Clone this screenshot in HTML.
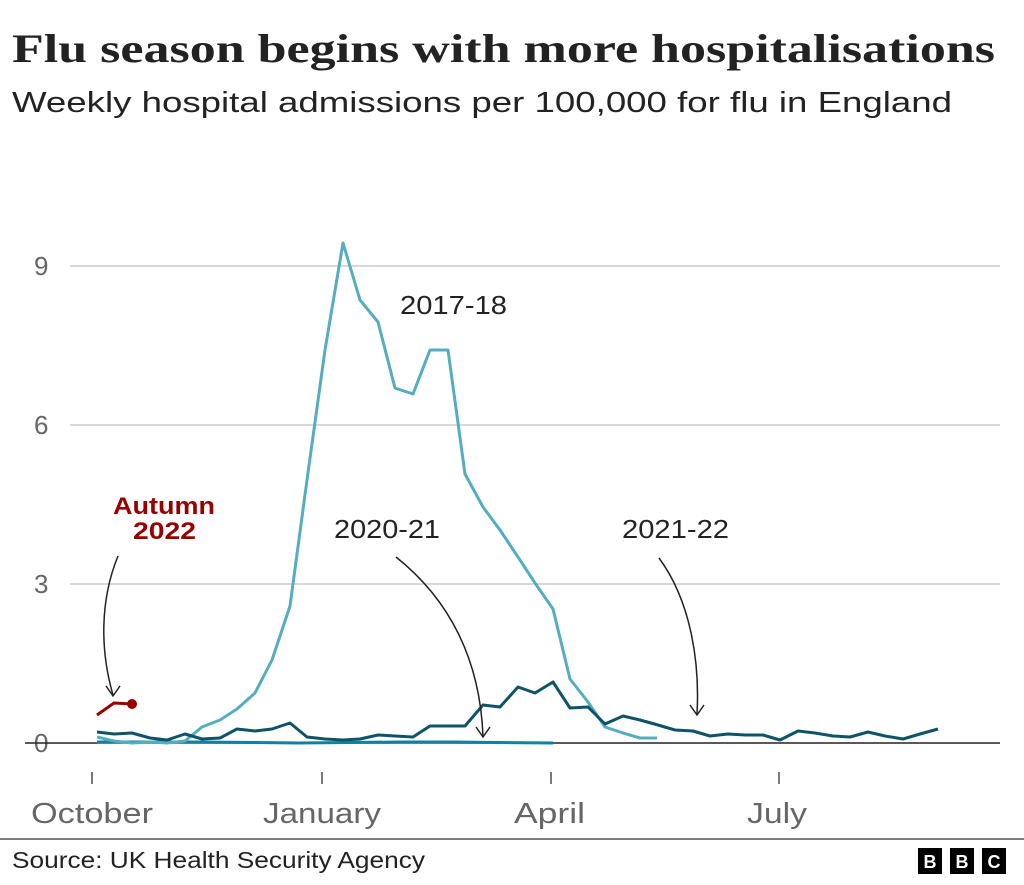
<!DOCTYPE html><html><head><meta charset="utf-8"><style>
body{margin:0;background:#fff;width:1024px;height:880px;overflow:hidden}
</style></head><body>
<svg width="1024" height="880" xmlns="http://www.w3.org/2000/svg" font-family="Liberation Sans, sans-serif">
<text x="12" y="62" style="font-family:'Liberation Serif',serif" font-weight="bold" font-size="40" fill="#222" textLength="983" lengthAdjust="spacingAndGlyphs">Flu season begins with more hospitalisations</text>
<text x="12" y="112" font-size="29" fill="#222" textLength="940" lengthAdjust="spacingAndGlyphs">Weekly hospital admissions per 100,000 for flu in England</text>
<g stroke="#ccc" stroke-width="1.5">
<line x1="70" y1="266" x2="1000" y2="266"/><line x1="70" y1="425" x2="1000" y2="425"/><line x1="70" y1="584" x2="1000" y2="584"/></g>
<g font-size="26" fill="#666"><text x="34" y="275">9</text><text x="34" y="434">6</text><text x="34" y="593">3</text><text x="34" y="752">0</text></g>
<line x1="25" y1="743" x2="1000" y2="743" stroke="#222" stroke-width="1.5"/>
<g stroke="#222" stroke-width="1.2"><line x1="92" y1="772" x2="92" y2="784"/><line x1="322" y1="772" x2="322" y2="784"/><line x1="551" y1="772" x2="551" y2="784"/><line x1="779" y1="772" x2="779" y2="784"/></g>
<g font-size="29" fill="#666"><text x="31" y="823" textLength="122" lengthAdjust="spacingAndGlyphs">October</text><text x="263" y="823" textLength="118" lengthAdjust="spacingAndGlyphs">January</text><text x="514" y="823" textLength="71" lengthAdjust="spacingAndGlyphs">April</text><text x="747" y="823" textLength="60" lengthAdjust="spacingAndGlyphs">July</text></g>
<polyline fill="none" stroke="#1380a1" stroke-width="3" points="97,742 200,742 300,743 400,742 450,742 553,743"/>
<polyline fill="none" stroke="#55adc0" stroke-width="3" stroke-linejoin="round" points="97,737 114,741 132,743 150,742 167,743 185,741 202,727 220,720 237,709 255,693 272,660 290,606 307,480 325,350 343,243 360,300 378,322 395,388 413,394 430,350 448,350 465,474 483,507 500,530 518,557 535,583 553,609 570,679 588,702 605,727 623,733 640,738 657,738"/>
<polyline fill="none" stroke="#0d5468" stroke-width="3" stroke-linejoin="round" points="97,732 114,734 132,733 150,738 167,740 185,734 202,739 220,738 237,729 255,731 272,729 290,723 307,737 325,739 343,740 360,739 378,735 395,736 413,737 430,726 448,726 465,726 483,705 500,707 518,687 535,693 553,682 570,708 588,707 605,724 623,716 640,720 658,725 675,730 693,731 710,736 728,734 745,735 763,735 780,740 798,731 815,733 833,736 850,737 868,732 885,736 903,739 920,734 938,729"/>
<polyline fill="none" stroke="#990000" stroke-width="3" points="97,715 114,703 132,704"/><circle cx="132" cy="704" r="5" fill="#990000"/>
<g font-weight="bold" font-size="24" fill="#990000"><text x="113" y="514" textLength="102" lengthAdjust="spacingAndGlyphs">Autumn</text><text x="133" y="539" textLength="63" lengthAdjust="spacingAndGlyphs">2022</text></g>
<g font-size="26" fill="#222"><text x="400" y="314" textLength="107" lengthAdjust="spacingAndGlyphs">2017-18</text><text x="334" y="538" textLength="106" lengthAdjust="spacingAndGlyphs">2020-21</text><text x="622" y="538" textLength="107" lengthAdjust="spacingAndGlyphs">2021-22</text></g>
<g fill="none" stroke="#222" stroke-width="1.5">
<path d="M118,556 C100,600 100,650 113,695"/><path d="M106,686 L113,696 L120,686"/>
<path d="M396,557 C450,600 480,660 483,736"/><path d="M476,727 L483,737 L490,727"/>
<path d="M659,558 C690,600 700,660 697,714"/><path d="M690,705 L697,715 L704,705"/>
</g>
<line x1="0" y1="839" x2="1024" y2="839" stroke="#555" stroke-width="1.5"/>
<text x="12" y="868" font-size="23" fill="#222" textLength="413" lengthAdjust="spacingAndGlyphs">Source: UK Health Security Agency</text>
<g><rect x="918" y="848" width="24" height="26" fill="#000"/><rect x="950" y="848" width="24" height="26" fill="#000"/><rect x="982" y="848" width="24" height="26" fill="#000"/>
<g fill="#fff" font-weight="bold" font-size="18" text-anchor="middle"><text x="930" y="868">B</text><text x="962" y="868">B</text><text x="994" y="868">C</text></g></g>
</svg></body></html>
